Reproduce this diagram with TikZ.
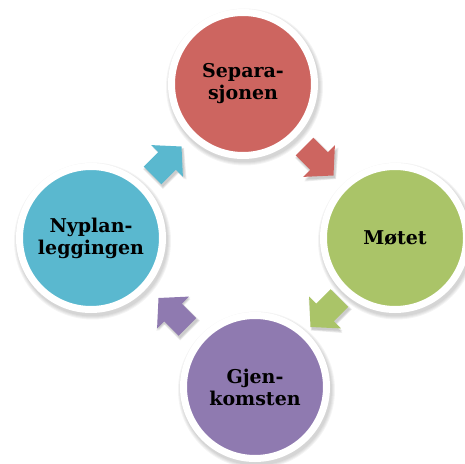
\documentclass[tikz,border=0pt]{standalone}
\usepackage{fontspec}
\setmainfont{DejaVu Serif}
\usetikzlibrary{calc,backgrounds}
\definecolor{cred}{RGB}{205,101,96}
\definecolor{cgreen}{RGB}{170,196,104}
\definecolor{cpurple}{RGB}{143,122,176}
\definecolor{cblue}{RGB}{90,184,207}
\newcommand\blockarrow[4]{%
  \begin{scope}[shift={($(#1)!0.5!(#2)+(1.5,-2.5)$)}, rotate=#3]
    \foreach \g in {1.5,0.8,0} {
    \fill[black, opacity=0.07] (-20.5-\g,-12.5-\g) -- (0+\g,-12.5-\g) -- (0+\g,-22.5-\g) -- (20.5+\g,0) -- (0+\g,22.5+\g) -- (0+\g,12.5+\g) -- (-20.5-\g,12.5+\g) -- cycle;}
  \end{scope}
  \begin{scope}[shift={($(#1)!0.5!(#2)$)}, rotate=#3]
    \fill[#4] (-20.5,-12.5) -- (0,-12.5) -- (0,-22.5) -- (20.5,0) -- (0,22.5) -- (0,12.5) -- (-20.5,12.5) -- cycle;
  \end{scope}}
\newcommand\softshadow[1]{%
  \foreach \r in {78.5,77.5,76.5,75.5} {
    \fill[black, opacity=0.045] ($(#1)+(1.5,-3)$) circle (\r);}}
\begin{document}
\begin{tikzpicture}[x=1pt,y=1pt,
  stage/.style={circle, minimum size=143pt, inner sep=0pt, draw=white,
    line width=7pt, fill=#1,
    font=\bfseries\fontsize{19}{22}\selectfont, align=center, text=black}]
\useasboundingbox (0,0) rectangle (465,463);
\node[stage=cred] (sep) at (243,379) {Separa-\\sjonen};
\node[stage=cgreen] (mot) at (395,225) {Møtet};
\node[stage=cpurple] (gjen) at (255,76) {Gjen-\\komsten};
\node[stage=cblue] (nyp) at (91,225) {Nyplan-\\leggingen};
\begin{scope}[on background layer]
  \softshadow{sep}
  \softshadow{mot}
  \softshadow{gjen}
  \softshadow{nyp}
\end{scope}
\blockarrow{sep}{mot}{-45}{cred}
\blockarrow{mot}{gjen}{-135}{cgreen}
\blockarrow{gjen}{nyp}{135}{cpurple}
\blockarrow{nyp}{sep}{45}{cblue}
\end{tikzpicture}
\end{document}
